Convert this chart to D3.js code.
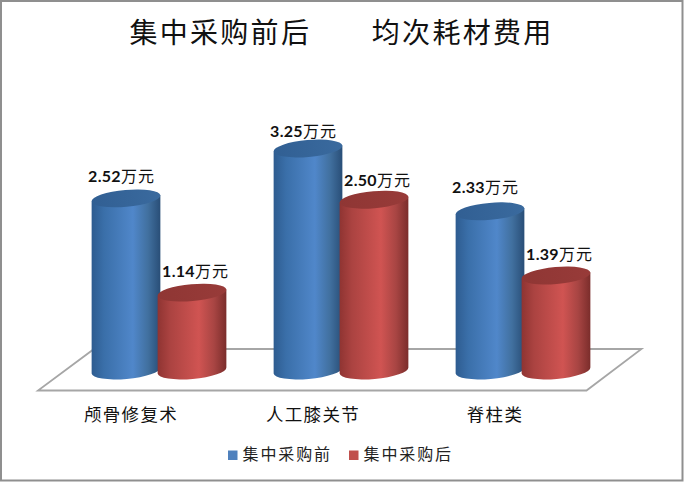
<!DOCTYPE html>
<html><head><meta charset="utf-8">
<script src="https://cdn.jsdelivr.net/npm/d3@7/dist/d3.min.js"></script>
<style>html,body{margin:0;padding:0;background:#fff}svg{display:block}</style>
</head><body><svg width="684" height="483"></svg>
<script>
const categories = ["颅骨修复术", "人工膝关节", "脊柱类"];
const seriesNames = ["集中采购前", "集中采购后"];
const before = [2.52, 3.25, 2.33];
const after = [1.14, 2.50, 1.39];
const unit = "万元";
const titleText = "集中采购前后\u3000\u3000均次耗材费用";

const svg = d3.select("svg");
const FONT = '"Noto Sans CJK SC","Noto Sans",sans-serif';
const LATIN = 'Lato,"Open Sans",sans-serif';
const BASE = 370.5, RX = 34.5, RY = 8.5, TILT = -5;
const labelNudge = [[0, 4, -2], [0, 2, 0]];

const x0 = d3.scaleBand().domain(categories).range([68, 614]);
const x1 = d3.scaleBand().domain(seriesNames).range([-66, 66]).padding(0);
const y = d3.scaleLinear().domain([0, 3.25]).range([BASE, 148.5]);
const colors = d3.scaleOrdinal().domain(seriesNames).range(["#4f81bd", "#c0504d"]);

const defs = svg.append("defs");
function grad(id, stops) {
  const g = defs.append("linearGradient").attr("id", id);
  stops.forEach(s => g.append("stop").attr("offset", s[0]).attr("stop-color", s[1]));
}
grad("g0", [[0, "#2e5c90"], [.18, "#3a6fa9"], [.6, "#5087ca"], [.82, "#41709f"], [1, "#294e77"]]);
grad("g1", [[0, "#8f3432"], [.18, "#ab4341"], [.6, "#d05452"], [.82, "#a84543"], [1, "#7b2d2b"]]);
grad("c0", [[0, "#315f93"], [1, "#3a6a9e"]]);
grad("c1", [[0, "#8f3634"], [1, "#983b39"]]);

svg.append("rect").attr("x", 1).attr("y", 1).attr("width", 681.5).attr("height", 479.5)
  .attr("fill", "#fff").attr("stroke", "#8f8f8f").attr("stroke-width", 2);

svg.append("path").attr("d", "M38,390.5L586.5,390.5L641.5,349L94,349Z")
  .attr("fill", "#fff").attr("stroke", "#a6a6a6").attr("stroke-width", 1.8);

svg.append("text").attr("x", 341.5).attr("y", 43).attr("text-anchor", "middle")
  .attr("font-family", FONT).attr("font-size", 28).attr("letter-spacing", 2.3)
  .attr("fill", "#111").text(titleText);

const c = Math.cos(TILT * Math.PI / 180), s = Math.sin(TILT * Math.PI / 180);
const series = [before, after];
categories.forEach((cat, ci) => {
  seriesNames.forEach((name, si) => {
    const v = series[si][ci];
    const cx = x0(cat) + x0.bandwidth() / 2 + x1(name) + x1.bandwidth() / 2;
    const top = y(v);
    const dx = RX * c, dy = RX * s;
    const g = svg.append("g");
    g.append("path")
      .attr("d", `M${cx - dx},${top - dy}L${cx - dx},${BASE - dy}` +
        `A${RX},${RY} ${TILT} 0 0 ${cx + dx},${BASE + dy}L${cx + dx},${top + dy}Z`)
      .attr("fill", `url(#g${si})`);
    g.append("ellipse").attr("rx", RX).attr("ry", RY)
      .attr("transform", `translate(${cx},${top}) rotate(${TILT})`)
      .attr("fill", `url(#c${si})`);
    const t = svg.append("text").attr("x", cx + (si ? 3.5 : -4.5)).attr("y", top - 16 + labelNudge[si][ci])
      .attr("text-anchor", "middle").attr("fill", "#111");
    t.append("tspan").attr("font-family", LATIN).attr("font-weight", 700).attr("font-size", 16).attr("letter-spacing", 0.3).text(v.toFixed(2));
    t.append("tspan").attr("font-family", FONT).attr("font-size", 16).attr("letter-spacing", 1).text(unit);
  });
  svg.append("text").attr("x", x0(cat) + x0.bandwidth() / 2 - 28)
    .attr("y", 421).attr("text-anchor", "middle")
    .attr("font-family", FONT).attr("font-size", 17.5).attr("letter-spacing", 1.3).attr("fill", "#111").text(cat);
});

const legendX = d3.scalePoint().domain(seriesNames).range([228, 349]);
seriesNames.forEach(name => {
  svg.append("rect").attr("x", legendX(name)).attr("y", 450.5).attr("width", 9.5).attr("height", 9.5).attr("fill", colors(name));
  svg.append("text").attr("x", legendX(name) + 14.5).attr("y", 460)
    .attr("font-family", FONT).attr("font-size", 16).attr("letter-spacing", 1.9).attr("fill", "#222").text(name);
});
</script></body></html>
